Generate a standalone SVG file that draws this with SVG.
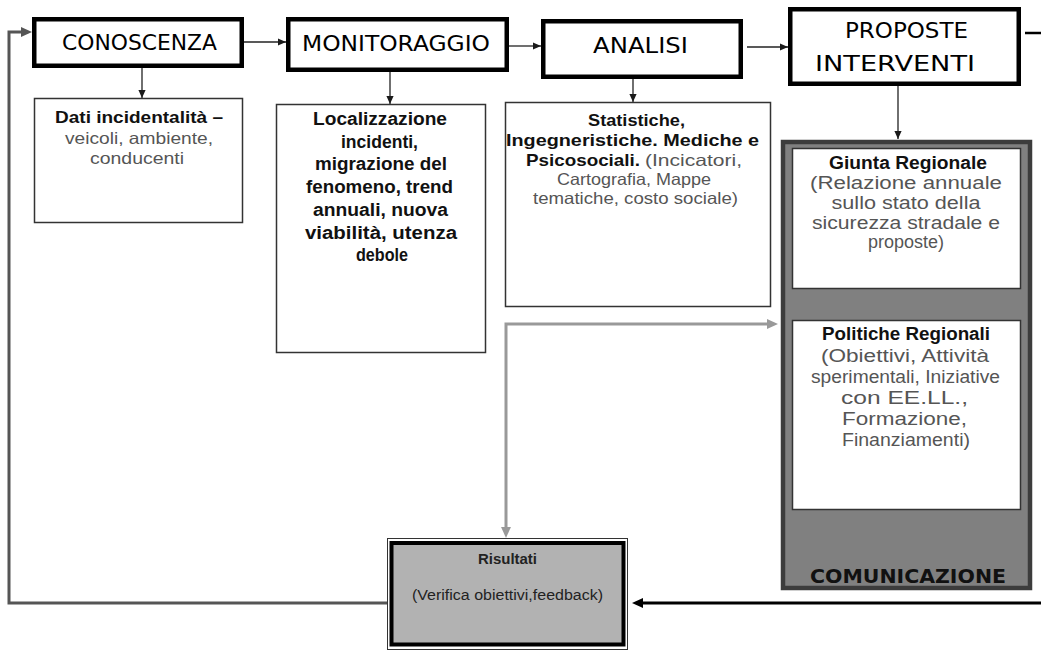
<svg xmlns="http://www.w3.org/2000/svg" width="1041" height="650" viewBox="0 0 1041 650">
<style>
.title{font-family:"DejaVu Sans",Verdana,sans-serif;font-size:21px;fill:#000;text-anchor:middle}
.tbox{fill:#fff;stroke:#000;stroke-width:4.5}
.box{fill:#fff;stroke:#333;stroke-width:1.5}
.b{font-family:"Liberation Sans",Arial,sans-serif;font-weight:bold;fill:#111;text-anchor:middle}
.r{font-family:"Liberation Sans",Arial,sans-serif;fill:#555;text-anchor:middle}
.s{text-anchor:start}
.f16{font-size:16.5px}
.f18{font-size:18px}
.f17{font-size:17.5px}
.narrow{font-family:"Liberation Sans Narrow","Liberation Sans",Arial,sans-serif;font-size:15.5px;fill:#222;text-anchor:middle}
.thin{fill:none;stroke:#222;stroke-width:1.3}
</style>
<defs>
<marker id="aThin" viewBox="0 0 10 10" refX="10" refY="5" markerWidth="8" markerHeight="8" markerUnits="userSpaceOnUse" orient="auto"><path d="M0,0.5 L10,5 L0,9.5 z" fill="#1a1a1a"/></marker>
<marker id="aGray" viewBox="0 0 10 10" refX="4" refY="5" markerWidth="11" markerHeight="11" markerUnits="userSpaceOnUse" orient="auto-start-reverse"><path d="M0,0.5 L10,5 L0,9.5 z" fill="#999"/></marker>
<marker id="aDk" viewBox="0 0 10 10" refX="4" refY="5" markerWidth="11" markerHeight="11" markerUnits="userSpaceOnUse" orient="auto"><path d="M0,0.5 L10,5 L0,9.5 z" fill="#555"/></marker>
<marker id="aBlk" viewBox="0 0 10 10" refX="4" refY="5" markerWidth="11" markerHeight="11" markerUnits="userSpaceOnUse" orient="auto"><path d="M0,0.5 L10,5 L0,9.5 z" fill="#000"/></marker>
</defs>
<rect width="1041" height="650" fill="#fff"/>

<g id="connectors">
<path class="thin" d="M244,42 L286,42" marker-end="url(#aThin)"/>
<path class="thin" d="M509,46 L541,46" marker-end="url(#aThin)"/>
<path class="thin" d="M747,47 L788,47" marker-end="url(#aThin)"/>
<path class="thin" d="M142,68 L142,98" marker-end="url(#aThin)"/>
<path class="thin" d="M390,72 L390,104" marker-end="url(#aThin)"/>
<path class="thin" d="M633,79 L633,102" marker-end="url(#aThin)"/>
<path class="thin" d="M898,86 L898,139" stroke="#555" marker-end="url(#aThin)"/>
<path class="thin" d="M898,297 L898,314" marker-end="url(#aThin)"/>
<path d="M1025,33 L1041,33" stroke="#000" stroke-width="2.5"/>
<path d="M506,531.4 L506,324 L771.4,324" fill="none" stroke="#999" stroke-width="3" marker-start="url(#aGray)" marker-end="url(#aGray)"/>
<path d="M388,603 L9,603 L9,32 L25.4,32" fill="none" stroke="#555" stroke-width="3" marker-end="url(#aDk)"/>
<path d="M1041,603 L638.6,603" fill="none" stroke="#000" stroke-width="3" marker-end="url(#aBlk)"/>
</g>

<g id="conoscenza">
<rect class="tbox" x="34.25" y="19.25" width="207.5" height="46.5"/>
<text class="title" x="139.5" y="50" textLength="155" lengthAdjust="spacingAndGlyphs">CONOSCENZA</text>
</g>
<g id="monitoraggio">
<rect class="tbox" x="288.25" y="19.25" width="218.5" height="50.5"/>
<text class="title" x="396" y="51" textLength="188" lengthAdjust="spacingAndGlyphs">MONITORAGGIO</text>
</g>
<g id="analisi">
<rect class="tbox" x="543.25" y="21.25" width="197.5" height="55.5"/>
<text class="title" x="640.5" y="53" textLength="95" lengthAdjust="spacingAndGlyphs">ANALISI</text>
</g>
<g id="proposte">
<rect class="tbox" x="790.25" y="9.25" width="228.5" height="74.5"/>
<text class="title" x="906.5" y="38" textLength="123" lengthAdjust="spacingAndGlyphs">PROPOSTE</text>
<text class="title" x="895" y="71" textLength="160" lengthAdjust="spacingAndGlyphs">INTERVENTI</text>
</g>

<g id="dati">
<rect class="box" x="34.5" y="98.5" width="208" height="124"/>
<text class="b f16" x="139" y="123" textLength="168" lengthAdjust="spacingAndGlyphs">Dati incidentalità –</text>
<text class="r f16" x="139" y="144" textLength="148" lengthAdjust="spacingAndGlyphs">veicoli, ambiente,</text>
<text class="r f16" x="137" y="164" textLength="94" lengthAdjust="spacingAndGlyphs">conducenti</text>
</g>

<g id="localizzazione">
<rect class="box" x="276.5" y="104.5" width="209" height="248"/>
<text class="b f18" x="380" y="125" textLength="134" lengthAdjust="spacingAndGlyphs">Localizzazione</text>
<text class="b f18" x="379.5" y="148" textLength="77" lengthAdjust="spacingAndGlyphs">incidenti,</text>
<text class="b f18" x="381" y="170" textLength="132" lengthAdjust="spacingAndGlyphs">migrazione del</text>
<text class="b f18" x="379.5" y="193" textLength="147" lengthAdjust="spacingAndGlyphs">fenomeno, trend</text>
<text class="b f18" x="380.5" y="216" textLength="135" lengthAdjust="spacingAndGlyphs">annuali, nuova</text>
<text class="b f18" x="381" y="239" textLength="152" lengthAdjust="spacingAndGlyphs">viabilità, utenza</text>
<text class="b f18" x="382" y="261" textLength="52" lengthAdjust="spacingAndGlyphs">debole</text>
</g>

<g id="statistiche">
<rect class="box" x="505.5" y="102.5" width="265" height="204"/>
<text class="b f16" x="636.5" y="126" textLength="97" lengthAdjust="spacingAndGlyphs">Statistiche,</text>
<text class="b f16" x="632.5" y="146" textLength="253" lengthAdjust="spacingAndGlyphs">Ingegneristiche. Mediche e</text>
<text class="b f16 s" x="526" y="166" textLength="114" lengthAdjust="spacingAndGlyphs">Psicosociali.</text>
<text class="r f16 s" x="645" y="166" textLength="97" lengthAdjust="spacingAndGlyphs">(Incicatori,</text>
<text class="r f16" x="634" y="185" textLength="154" lengthAdjust="spacingAndGlyphs">Cartografia, Mappe</text>
<text class="r f16" x="635.5" y="204" textLength="205" lengthAdjust="spacingAndGlyphs">tematiche, costo sociale)</text>
</g>

<g id="comunicazione">
<rect x="783" y="142" width="247" height="446" fill="#808080" stroke="#3c3c3c" stroke-width="4.5"/>
<text x="908" y="583" font-family="DejaVu Sans, Verdana, sans-serif" font-weight="bold" font-size="19" fill="#111" text-anchor="middle" textLength="196" lengthAdjust="spacingAndGlyphs">COMUNICAZIONE</text>
</g>

<g id="giunta">
<rect class="box" x="792.5" y="148.5" width="228" height="140" fill="#fff"/>
<text class="b f17" x="908" y="169" textLength="158" lengthAdjust="spacingAndGlyphs">Giunta Regionale</text>
<text class="r f17" x="906" y="189" textLength="192" lengthAdjust="spacingAndGlyphs">(Relazione annuale</text>
<text class="r f17" x="906" y="209" textLength="149" lengthAdjust="spacingAndGlyphs">sullo stato della</text>
<text class="r f17" x="906" y="229" textLength="188" lengthAdjust="spacingAndGlyphs">sicurezza stradale e</text>
<text class="r f17" x="906" y="248" textLength="76" lengthAdjust="spacingAndGlyphs">proposte)</text>
</g>

<g id="politiche">
<rect class="box" x="792.5" y="320.5" width="228" height="189"/>
<text class="b f17" x="906" y="340" textLength="168" lengthAdjust="spacingAndGlyphs">Politiche Regionali</text>
<text class="r f17" x="905" y="362" textLength="168" lengthAdjust="spacingAndGlyphs">(Obiettivi, Attività</text>
<text class="r f17" x="905.5" y="383" textLength="189" lengthAdjust="spacingAndGlyphs">sperimentali, Iniziative</text>
<text class="r f17" x="904.5" y="404" textLength="127" lengthAdjust="spacingAndGlyphs">con EE.LL.,</text>
<text class="r f17" x="904.5" y="425" textLength="125" lengthAdjust="spacingAndGlyphs">Formazione,</text>
<text class="r f17" x="906" y="446" textLength="128" lengthAdjust="spacingAndGlyphs">Finanziamenti)</text>
</g>

<g id="risultati">
<rect x="387.5" y="538.5" width="240" height="111" fill="#fff" stroke="#333" stroke-width="1"/>
<rect x="391.5" y="543" width="232" height="101.5" fill="#b2b2b2" stroke="#000" stroke-width="4"/>
<text class="narrow" x="507.5" y="564" font-weight="bold" textLength="59" lengthAdjust="spacingAndGlyphs">Risultati</text>
<text class="narrow" x="507.5" y="600" textLength="191" lengthAdjust="spacingAndGlyphs">(Verifica obiettivi,feedback)</text>
</g>
</svg>
